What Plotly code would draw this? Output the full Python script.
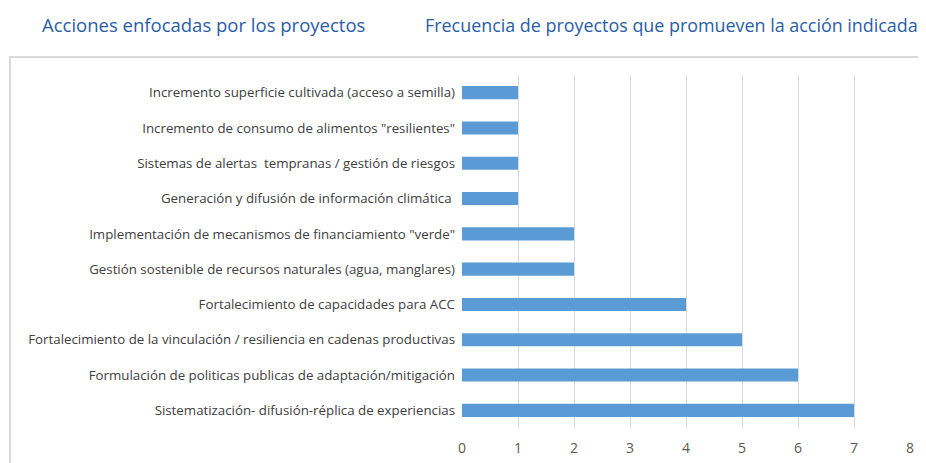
import plotly.graph_objects as go

categories = [
    "Sistematización- difusión-réplica de experiencias",
    "Formulación de politicas publicas de adaptación/mitigación",
    "Fortalecimiento de la vinculación / resiliencia en cadenas productivas",
    "Fortalecimiento de capacidades para ACC",
    "Gestión sostenible de recursos naturales (agua, manglares)",
    "Implementación de mecanismos de financiamiento \"verde\"",
    "Generación y difusión de información climática ",
    "Sistemas de alertas  tempranas / gestión de riesgos",
    "Incremento de consumo de alimentos \"resilientes\"",
    "Incremento superficie cultivada (acceso a semilla)",
]
values = [7, 6, 5, 4, 2, 2, 1, 1, 1, 1]
x_ticks = [0, 1, 2, 3, 4, 5, 6, 7, 8]
header_left = "Acciones enfocadas por los proyectos"
header_right = "Frecuencia de proyectos que promueven la acción indicada"

OFF = 8  # page body margin
W, H = 926, 463
L, R, T, B = 462 - OFF, 926 - (910 - OFF), 75 - OFF, 463 - (428 - OFF)
pw, ph = W - L - R, H - T - B

def px(x):
    return (x - OFF - L) / pw

def py(y):
    return (H - B - (y - OFF)) / ph

fig = go.Figure(go.Bar(
    x=values, y=categories, orientation="h",
    marker=dict(color="#5B9BD5", line=dict(width=0)),
    hoverinfo="x+y",
))

fig.update_layout(
    width=W, height=H,
    margin=dict(l=L, r=R, t=T, b=B),
    paper_bgcolor="white", plot_bgcolor="white",
    bargap=0.63,
    showlegend=False,
    font=dict(family="Open Sans, Liberation Sans, sans-serif", color="#404040", size=13),
)
fig.update_xaxes(
    range=[0, 8], tickvals=x_ticks, showgrid=True, gridcolor="#D9D9D9", gridwidth=1,
    zeroline=False, showline=False, ticks="", tickfont=dict(size=14, color="#595959"),
    ticklabelstandoff=10,
)
fig.update_yaxes(
    showgrid=False, zeroline=False, showline=False, ticks="",
    tickfont=dict(size=13.3, color="#404040"), ticklabelstandoff=6,
)

fig.add_shape(type="rect", xref="paper", yref="paper",
              x0=px(10), x1=px(960), y0=py(490), y1=py(57),
              line=dict(color="#D9D9D9", width=2), fillcolor="rgba(0,0,0,0)", layer="below")

fig.add_annotation(text=header_left, xref="paper", yref="paper", x=px(40), y=py(25),
                   xanchor="left", yanchor="middle", showarrow=False,
                   font=dict(size=18.5, color="#2A5DA8", family="Open Sans, sans-serif"))
fig.add_annotation(text=header_right, xref="paper", yref="paper", x=px(423), y=py(25),
                   xanchor="left", yanchor="middle", showarrow=False,
                   font=dict(size=17.9, color="#2A5DA8", family="Open Sans, sans-serif"))

fig.write_html("out.html")
